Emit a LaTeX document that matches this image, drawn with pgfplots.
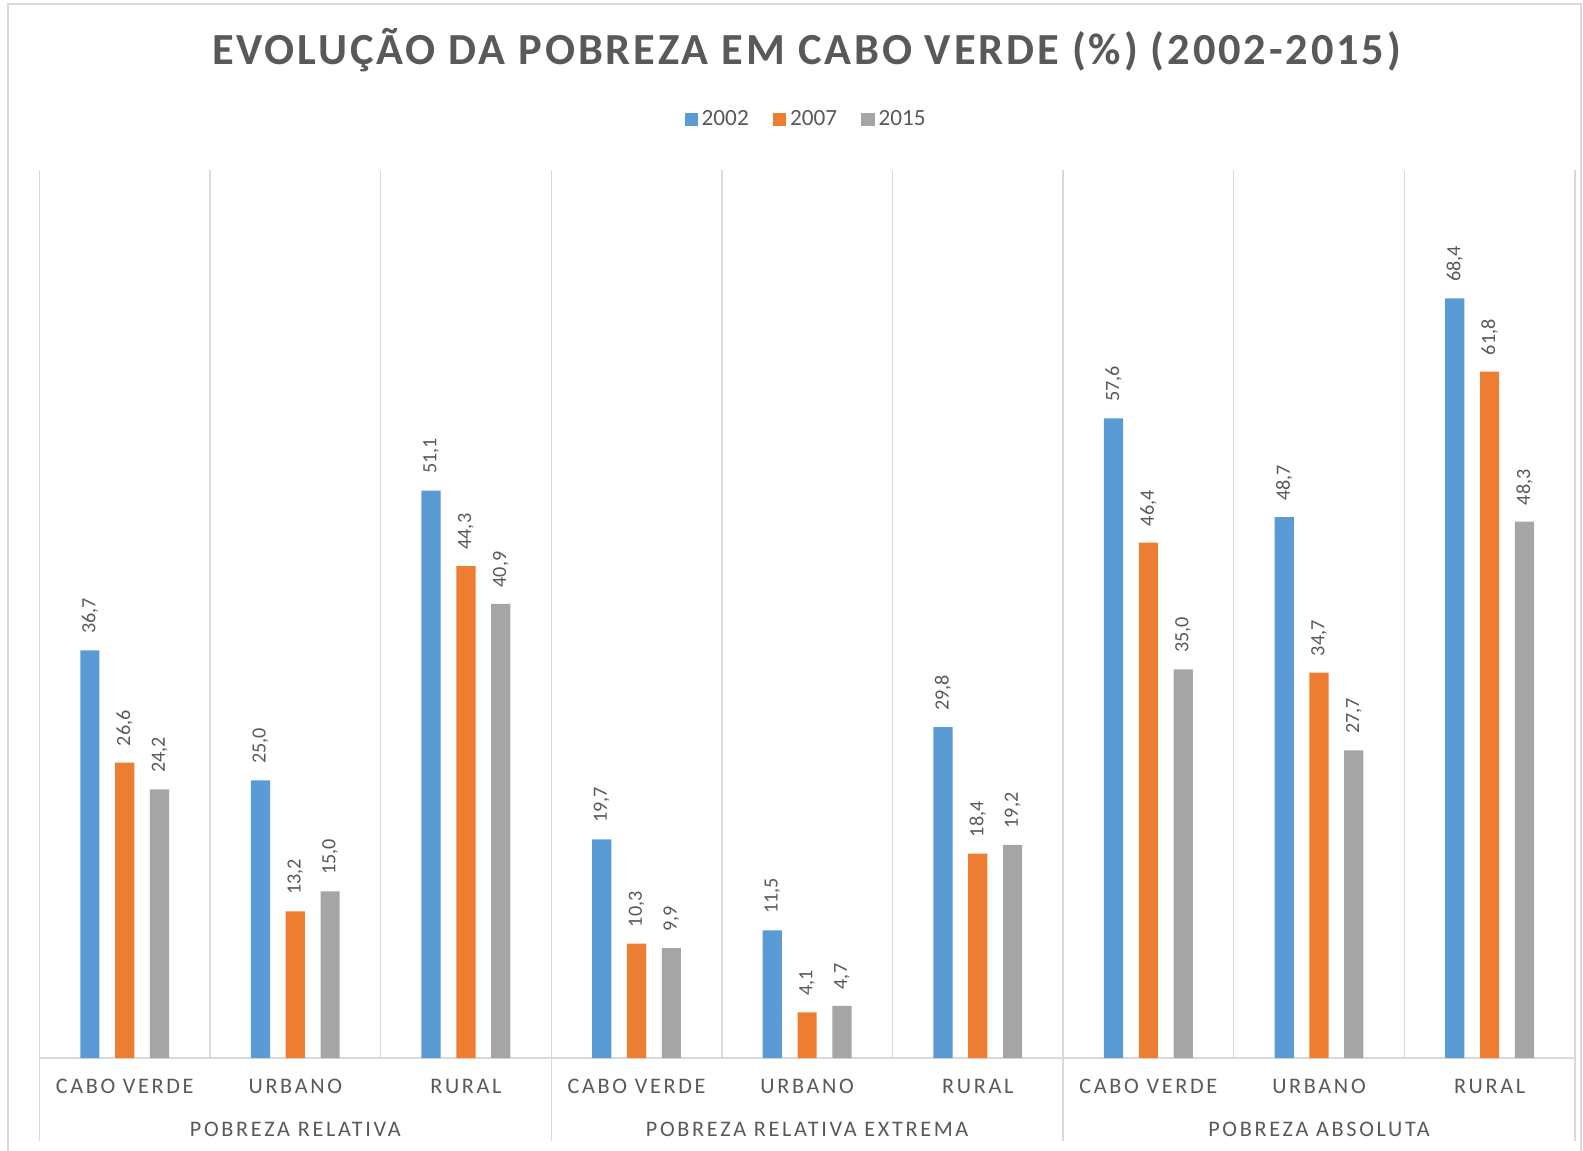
\documentclass[border=0pt]{standalone}
\usepackage{pgfplots}
\pgfplotsset{compat=1.18}
\usepackage{pgfplotstable}
\usepackage{fontspec}
\setmainfont{Carlito}
\newfontfamily\spaced[LetterSpace=12]{Carlito}
\newfontfamily\titlefont[LetterSpace=6.5]{Carlito}
\definecolor{cblue}{HTML}{5B9BD5}
\definecolor{corange}{HTML}{ED7D31}
\definecolor{cgray}{HTML}{A5A5A5}
\definecolor{txt}{HTML}{595959}
\definecolor{gridc}{HTML}{D9D9D9}

\pgfplotstableread{
x a b c
0 36.7 26.6 24.2
1 25.0 13.2 15.0
2 51.1 44.3 40.9
3 19.7 10.3 9.9
4 11.5 4.1 4.7
5 29.8 18.4 19.2
6 57.6 46.4 35.0
7 48.7 34.7 27.7
8 68.4 61.8 48.3
}\data

\begin{document}
\begin{tikzpicture}
\useasboundingbox (0,0) rectangle (784pt,570pt);
\draw[gridc, line width=0.75pt] (4pt,-5pt) -- (4pt,568pt) -- (783pt,568pt) -- (783pt,-5pt);
\begin{axis}[
  at={(19.5pt,46pt)}, anchor=south west,
  scale only axis, width=760.5pt, height=440pt,
  xmin=-0.5, xmax=8.5, ymin=0, ymax=80,
  ybar, bar width=9.5pt,
  clip=false,
  axis x line*=bottom, axis y line=none,
  x axis line style={draw=gridc, line width=1pt},
  xtick={0,...,8},
  xticklabels={CABO VERDE, URBANO, RURAL, CABO VERDE, URBANO, RURAL, CABO VERDE, URBANO, RURAL},
  major tick length=0pt, minor tick length=0pt,
  minor xtick={-0.5,0.5,...,8.5},
  xminorgrids, minor grid style={draw=gridc, line width=0.7pt},
  ytick=\empty,
  xticklabel style={font=\spaced\fontsize{11}{13}\selectfont, text=txt, anchor=center, yshift=-14pt},
  nodes near coords,
  nodes near coords style={rotate=90, anchor=west, inner xsep=8pt, inner ysep=0pt, font=\fontsize{10}{12}\selectfont, text=txt},
  /pgf/number format/fixed, /pgf/number format/fixed zerofill, /pgf/number format/precision=1,
  /pgf/number format/use comma, /pgf/number format/assume math mode=true,
  legend style={at={(0.5,1)}, anchor=center, yshift=25pt, draw=none, fill=none, legend columns=3,
    font=\fontsize{11.5}{13}\selectfont, text=txt,
    /tikz/every even column/.append style={column sep=10pt}},
  mybar/.style={draw=none, fill=#1, legend image code/.code={\fill[#1] (0pt,-3.25pt) rectangle (6.5pt,3.25pt);}},
]
\addplot[mybar=cblue, bar shift=-17.25pt] table[x=x, y=a]{\data};
\addplot[mybar=corange, bar shift=0pt] table[x=x, y=b]{\data};
\addplot[mybar=cgray, bar shift=17.25pt] table[x=x, y=c]{\data};
\legend{2002, 2007, 2015}
\draw[gridc, line width=0.7pt] (axis cs:-0.5,0) -- ++(0pt,-41pt);
\draw[gridc, line width=0.7pt] (axis cs:2.5,0) -- ++(0pt,-41pt);
\draw[gridc, line width=0.7pt] (axis cs:5.5,0) -- ++(0pt,-41pt);
\draw[gridc, line width=0.7pt] (axis cs:8.5,0) -- ++(0pt,-41pt);
\node[font=\spaced\fontsize{11}{13}\selectfont, text=txt, anchor=center] at ([yshift=-35.5pt]axis cs:1,0) {POBREZA RELATIVA};
\node[font=\spaced\fontsize{11}{13}\selectfont, text=txt, anchor=center] at ([yshift=-35.5pt]axis cs:4,0) {POBREZA RELATIVA EXTREMA};
\node[font=\spaced\fontsize{11}{13}\selectfont, text=txt, anchor=center] at ([yshift=-35.5pt]axis cs:7,0) {POBREZA ABSOLUTA};
\end{axis}
\node[anchor=base, text=txt, font=\titlefont\bfseries\fontsize{22}{26}\selectfont] at (399.5pt,538pt) {EVOLUÇÃO DA POBREZA EM CABO VERDE (\%) (2002-2015)};
\end{tikzpicture}
\end{document}
